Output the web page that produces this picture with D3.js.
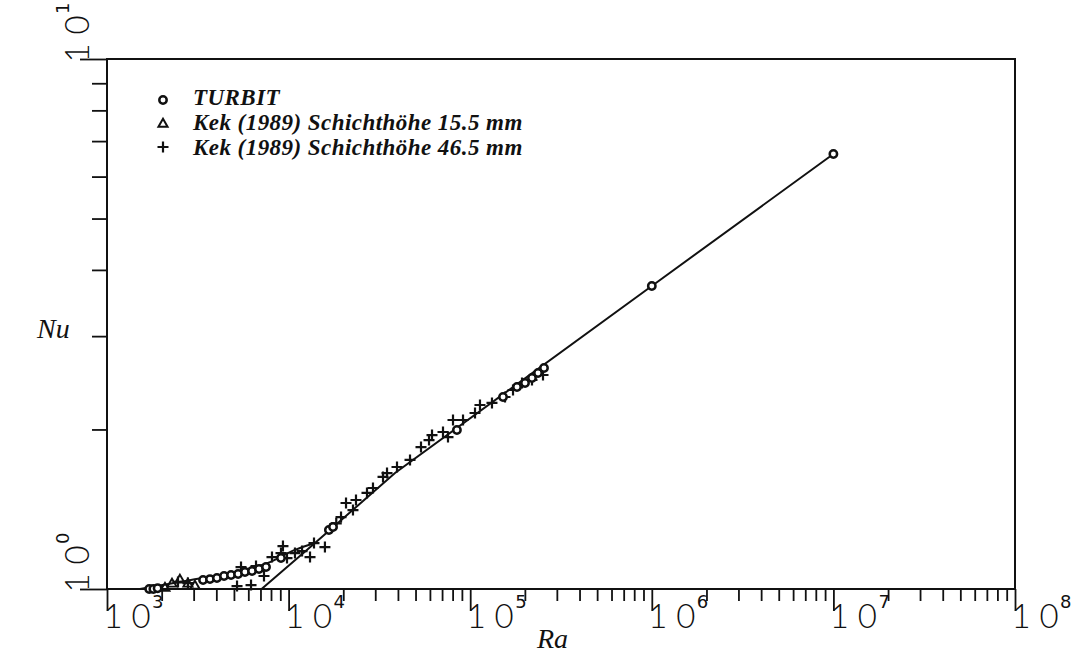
<!DOCTYPE html>
<html>
<head>
<meta charset="utf-8">
<script src="https://cdn.jsdelivr.net/npm/d3@7"></script>
<style>
  body { margin: 0; background: #fff; }
  svg { display: block; }
</style>
</head>
<body>
<svg id="chart" width="1073" height="657"></svg>
<script>
// Nusselt number versus Rayleigh number, log-log

const raDomain = [1e3, 1e8];
const nuDomain = [1, 10];
const xDecadeExponents = [3, 4, 5, 6, 7, 8];
const yDecadeExponents = [0, 1];

// TURBIT simulations
const turbitRa = [1708, 1800, 1900, 3380, 3690, 4030, 4410, 4820, 5270, 5750, 6290, 6870, 7510,
  9080, 16670, 17560, 84500, 151600, 181000, 200400, 218900, 236300, 254900, 1e6, 1e7];
const turbitNu = [1.0, 1.0, 1.003, 1.040, 1.044, 1.049, 1.058, 1.063, 1.067, 1.077, 1.081, 1.091, 1.100,
  1.144, 1.292, 1.309, 1.995, 2.303, 2.405, 2.447, 2.501, 2.556, 2.612, 3.73, 6.62];

// Kek (1989), layer height 15.5 mm
const kek155Ra = [2085, 2280, 2520, 2790, 3050];
const kek155Nu = [1.004, 1.022, 1.040, 1.022, 1.013];

// Kek (1989), layer height 46.5 mm
const kek465Ra = [2460, 2790, 5200, 6210, 7320, 5470, 6615, 8100, 9310, 9080, 9800, 10840, 11860,
  13120, 13800, 15850, 17000, 18300, 19440, 20710, 22620, 23500, 27020, 29150, 33110, 34830, 39530,
  46620, 53590, 59320, 61620, 70830, 75460, 80410, 91300, 106300, 113200, 131800, 155500, 172100,
  192900, 218900, 251700];
const kek465Nu = [1.031, 1.026, 1.013, 1.017, 1.058, 1.10, 1.105, 1.149, 1.205, 1.169, 1.144, 1.169, 1.179,
  1.149, 1.221, 1.200, 1.300, 1.330, 1.367, 1.453, 1.409, 1.472, 1.518, 1.551, 1.627, 1.655, 1.699,
  1.752, 1.853, 1.910, 1.952, 1.978, 1.935, 2.084, 2.084, 2.148, 2.224, 2.244, 2.303, 2.374,
  2.447, 2.480, 2.534];

// correlation curves
const fitMainRa = [7100, 13970, 38550, 1e6, 1e7];
const fitMainNu = [1.0, 1.221, 1.655, 3.73, 6.62];
const fitLowRa = [1519, 2900, 4750, 7700, 10840, 13970];
const fitLowNu = [1.0, 1.04, 1.072, 1.12, 1.185, 1.221];

const legendLabels = ["TURBIT", "Kek (1989) Schichthöhe 15.5 mm", "Kek (1989) Schichthöhe 46.5 mm"];
const axisTitles = { x: "Ra", y: "Nu" };

const zip = (a, b) => a.map((v, i) => ({ ra: v, nu: b[i] }));

const svg = d3.select("#chart");
const plot = { left: 107, right: 1015, top: 59, bottom: 589 };

const x = d3.scaleLog().domain(raDomain).range([plot.left, plot.right]);
const y = d3.scaleLog().domain(nuDomain).range([plot.bottom, plot.top]);

// tick values: every integer multiple inside each decade
const xTicks = [];
for (let e = 3; e < 8; e++) for (let k = 1; k <= 9; k++) xTicks.push(k * Math.pow(10, e));
xTicks.push(1e8);
const yTicks = d3.range(1, 11);
const isDecade = v => Math.abs(Math.log10(v) - Math.round(Math.log10(v))) < 1e-9;

const ink = "#111";

// x axis
const gx = svg.append("g")
  .attr("transform", `translate(0,${plot.bottom})`)
  .call(d3.axisBottom(x).tickValues(xTicks).tickFormat(() => "").tickSizeOuter(0));
gx.select(".domain").remove();
gx.selectAll(".tick line")
  .attr("y2", d => isDecade(d) ? 22 : 12)
  .attr("stroke", ink).attr("stroke-width", 1.8);

// y axis
const gy = svg.append("g")
  .attr("transform", `translate(${plot.left},0)`)
  .call(d3.axisLeft(y).tickValues(yTicks).tickFormat(() => "").tickSizeOuter(0));
gy.select(".domain").remove();
gy.selectAll(".tick line")
  .attr("x2", d => isDecade(d) ? -27 : -15)
  .attr("stroke", ink).attr("stroke-width", 1.8);

// frame
svg.append("rect")
  .attr("x", plot.left).attr("y", plot.top)
  .attr("width", plot.right - plot.left).attr("height", plot.bottom - plot.top)
  .attr("fill", "none").attr("stroke", ink).attr("stroke-width", 2);

// decade labels: spaced "1 0" with a small exponent
function decadeLabel(g, exp) {
  const t = g.append("text").attr("fill", ink);
  t.append("tspan")
    .attr("x", 6).attr("y", 0).attr("text-anchor", "middle")
    .attr("font-family", "Lato, sans-serif").attr("font-weight", 300)
    .attr("font-size", 33)
    .text("1");
  t.append("tspan")
    .attr("x", 34).attr("y", 0).attr("text-anchor", "middle")
    .attr("font-family", "Lato, sans-serif").attr("font-weight", 300)
    .attr("font-size", 33)
    .text("0");
  t.append("tspan")
    .attr("x", 45).attr("y", -20).attr("text-anchor", "start")
    .attr("font-family", "DejaVu Sans, sans-serif")
    .attr("font-size", 18)
    .text(exp);
}

xDecadeExponents.forEach(e => {
  const g = svg.append("g").attr("transform", `translate(${x(Math.pow(10, e))},628)`);
  decadeLabel(g, e);
});
yDecadeExponents.forEach(e => {
  const g = svg.append("g").attr("transform", `translate(89,${y(Math.pow(10, e))}) rotate(-90)`);
  decadeLabel(g, e);
});

// axis titles
svg.append("text")
  .attr("x", 537).attr("y", 648)
  .attr("font-family", "Liberation Serif, serif").attr("font-style", "italic")
  .attr("font-size", 28).attr("fill", ink)
  .text(axisTitles.x);
svg.append("text")
  .attr("x", 37).attr("y", 338)
  .attr("font-family", "Liberation Serif, serif").attr("font-style", "italic")
  .attr("font-size", 28).attr("fill", ink)
  .text(axisTitles.y);

// correlation curves
const line = d3.line().x(d => x(d.ra)).y(d => y(d.nu));
svg.append("path")
  .datum(zip(fitMainRa, fitMainNu))
  .attr("d", line)
  .attr("fill", "none").attr("stroke", ink).attr("stroke-width", 2);
svg.append("path")
  .datum(zip(fitLowRa, fitLowNu))
  .attr("d", line.curve(d3.curveMonotoneX))
  .attr("fill", "none").attr("stroke", ink).attr("stroke-width", 2);

// marker shapes
const plusPath = "M-5.5,0H5.5M0,-5.5V5.5";
const triPath = d3.symbol(d3.symbolTriangle, 36)();

function drawCircles(g, data) {
  g.selectAll("circle").data(data).join("circle")
    .attr("cx", d => x(d.ra)).attr("cy", d => y(d.nu)).attr("r", 3.7)
    .attr("fill", "#fff").attr("stroke", ink).attr("stroke-width", 2.5);
}
function drawTriangles(g, data) {
  g.selectAll("path").data(data).join("path")
    .attr("transform", d => `translate(${x(d.ra)},${y(d.nu)})`)
    .attr("d", triPath)
    .attr("fill", "none").attr("stroke", ink).attr("stroke-width", 1.9);
}
function drawPluses(g, data) {
  g.selectAll("path").data(data).join("path")
    .attr("transform", d => `translate(${x(d.ra)},${y(d.nu)})`)
    .attr("d", plusPath)
    .attr("fill", "none").attr("stroke", ink).attr("stroke-width", 2.2);
}

drawTriangles(svg.append("g"), zip(kek155Ra, kek155Nu));
drawPluses(svg.append("g"), zip(kek465Ra, kek465Nu));
drawCircles(svg.append("g"), zip(turbitRa, turbitNu));

// legend
const legendRows = [
  { label: legendLabels[0], my: 100, ty: 105, draw: g => g.append("circle").attr("r", 3.7)
      .attr("fill", "#fff").attr("stroke", ink).attr("stroke-width", 2.5) },
  { label: legendLabels[1], my: 124, ty: 130, draw: g => g.append("path").attr("d", triPath)
      .attr("fill", "none").attr("stroke", ink).attr("stroke-width", 2) },
  { label: legendLabels[2], my: 147, ty: 155, draw: g => g.append("path").attr("d", plusPath)
      .attr("fill", "none").attr("stroke", ink).attr("stroke-width", 2.2) }
];
legendRows.forEach(r => {
  const mg = svg.append("g").attr("transform", `translate(163,${r.my})`);
  r.draw(mg);
  svg.append("text")
    .attr("x", 193).attr("y", r.ty)
    .attr("font-family", "Liberation Serif, serif")
    .attr("font-style", "italic").attr("font-weight", "bold")
    .attr("font-size", 23).attr("letter-spacing", 0.45).attr("fill", ink)
    .text(r.label);
});
</script>
</body>
</html>
